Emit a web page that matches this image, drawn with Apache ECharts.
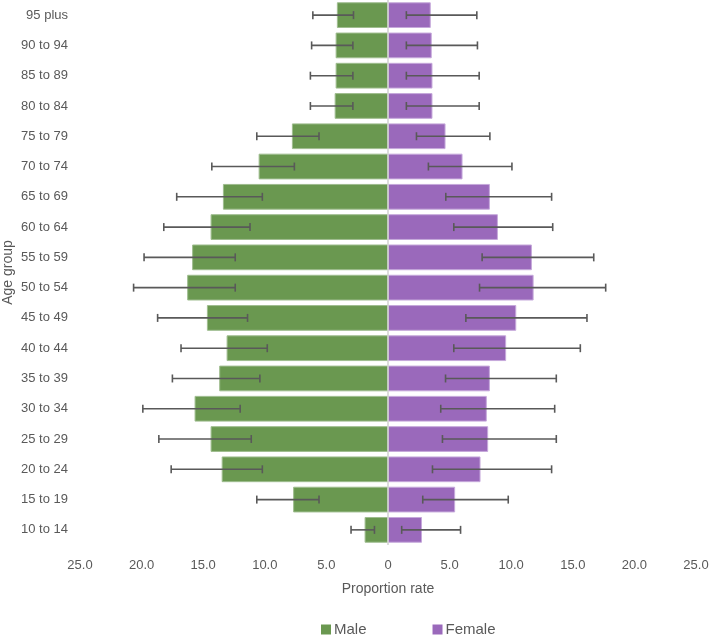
<!DOCTYPE html>
<html>
<head>
<meta charset="utf-8">
<script src="https://cdn.jsdelivr.net/npm/echarts@6/dist/echarts.min.js"></script>
<style>html,body{margin:0;padding:0;background:#fff}#c{width:709px;height:636px}</style>
</head>
<body>
<div id="c"></div>
<script>
// Categories, top to bottom
const categories = ["95 plus","90 to 94","85 to 89","80 to 84","75 to 79","70 to 74","65 to 69","60 to 64","55 to 59","50 to 54","45 to 49","40 to 44","35 to 39","30 to 34","25 to 29","20 to 24","15 to 19","10 to 14"];
const maleValues   = [4.15,4.25,4.25,4.33,7.8,10.5,13.4,14.4,15.9,16.3,14.7,13.1,13.7,15.7,14.4,13.5,7.7,1.9];
const maleLower    = [2.8,2.85,2.85,2.85,5.6,7.6,10.2,11.2,12.4,12.4,11.4,9.8,10.4,12.0,11.1,10.2,5.6,1.1];
const maleUpper    = [6.1,6.2,6.3,6.3,10.65,14.3,17.15,18.2,19.8,20.65,18.7,16.8,17.5,19.9,18.6,17.6,10.65,3.0];
const femaleValues = [3.47,3.55,3.61,3.61,4.67,6.05,8.27,8.92,11.68,11.82,10.41,9.59,8.27,8.02,8.13,7.51,5.45,2.76];
const femaleLower  = [1.49,1.49,1.49,1.49,2.31,3.28,4.69,5.34,7.64,7.43,6.32,5.34,4.67,4.28,4.42,3.61,2.82,1.11];
const femaleUpper  = [7.21,7.26,7.4,7.4,8.27,10.06,13.28,13.37,16.7,17.67,16.15,15.61,13.66,13.53,13.66,13.28,9.76,5.89];
const xTicks = {min: -25, max: 25, interval: 5};

const FONT = "'Liberation Sans', Arial, sans-serif";
const TXT = '#595959';

const chart = echarts.init(document.getElementById('c'), null, {renderer: 'canvas'});

const maleErr = categories.map((c, i) => [i, -maleLower[i], -maleUpper[i]]);
const femaleErr = categories.map((c, i) => [i, femaleLower[i], femaleUpper[i]]);

function renderErr(params, api) {
  const cat = api.value(0);
  const p1 = api.coord([api.value(1), cat]);
  const p2 = api.coord([api.value(2), cat]);
  const h = 4;
  const style = {stroke: '#595959', lineWidth: 1.6, fill: null};
  return {
    type: 'group',
    children: [
      {type: 'line', shape: {x1: p1[0], y1: p1[1], x2: p2[0], y2: p2[1]}, style: style},
      {type: 'line', shape: {x1: p1[0], y1: p1[1] - h, x2: p1[0], y2: p1[1] + h}, style: style},
      {type: 'line', shape: {x1: p2[0], y1: p2[1] - h, x2: p2[0], y2: p2[1] + h}, style: style}
    ]
  };
}

chart.setOption({
  animation: false,
  textStyle: {fontFamily: FONT, color: TXT},
  grid: {left: 80, right: 13, top: 0, bottom: 91, containLabel: false, outerBoundsMode: 'none'},
  legend: {
    data: ['Male', 'Female'],
    left: 316, top: 617,
    icon: 'rect', itemWidth: 10, itemHeight: 10, itemGap: 66,
    itemStyle: {borderWidth: 0},
    textStyle: {fontFamily: FONT, fontSize: 15, color: TXT, padding: [0, 0, 0, -2]}
  },
  xAxis: {
    type: 'value',
    min: xTicks.min, max: xTicks.max, interval: xTicks.interval,
    name: 'Proportion rate', nameLocation: 'middle', nameGap: 37, nameMoveOverlap: false,
    nameTextStyle: {fontFamily: FONT, fontSize: 14, color: TXT},
    axisLine: {show: false}, axisTick: {show: false}, splitLine: {show: false},
    axisLabel: {
      margin: 14, fontFamily: FONT, fontSize: 13, color: TXT,
      formatter: v => v === 0 ? '0' : Math.abs(v).toFixed(1)
    }
  },
  yAxis: {
    type: 'category', data: categories, inverse: true,
    name: 'Age group', nameLocation: 'middle', nameGap: 65, nameMoveOverlap: false,
    nameTextStyle: {fontFamily: FONT, fontSize: 14, color: TXT},
    axisLine: {show: false, onZero: false}, axisTick: {show: false},
    axisLabel: {margin: 12, fontFamily: FONT, fontSize: 13, color: TXT}
  },
  series: [
    {
      name: 'Male', type: 'bar', data: maleValues.map(v => -v),
      barGap: '-100%', barCategoryGap: '15%',
      itemStyle: {color: '#6a9850', borderColor: '#9fbd8f', borderWidth: 1}
    },
    {
      name: 'Female', type: 'bar', data: femaleValues,
      barGap: '-100%', barCategoryGap: '15%',
      itemStyle: {color: '#9a69bb', borderColor: '#c6a9db', borderWidth: 1},
      markLine: {
        silent: true, symbol: 'none', label: {show: false},
        lineStyle: {color: '#d0d0d0', width: 1.5, type: 'solid'},
        data: [{xAxis: 0}]
      }
    },
    {
      name: 'MaleErr', type: 'custom', renderItem: renderErr, data: maleErr,
      encode: {x: [1, 2], y: 0}, z: 10, silent: true
    },
    {
      name: 'FemaleErr', type: 'custom', renderItem: renderErr, data: femaleErr,
      encode: {x: [1, 2], y: 0}, z: 10, silent: true
    }
  ]
});
</script>
</body>
</html>
